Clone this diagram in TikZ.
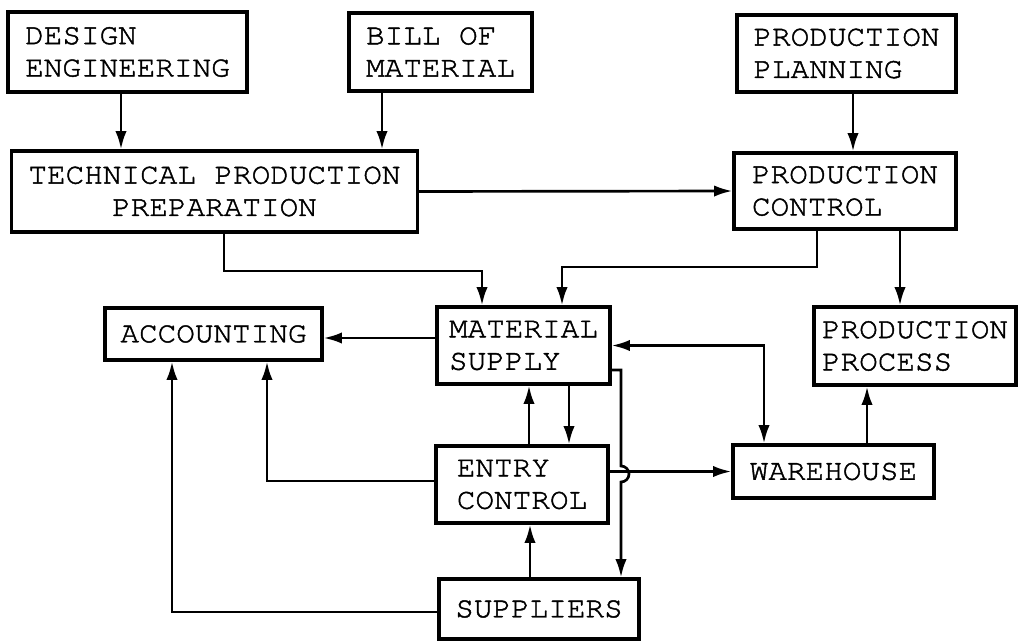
\documentclass[tikz,border=0pt]{standalone}
\usepackage{fontspec}
\newfontfamily\typefont[FakeStretch=1.05,FakeBold=1.5]{texgyrecursor-regular.otf}
\usetikzlibrary{arrows.meta}

\begin{document}
\begin{tikzpicture}[x=0.025cm,y=-0.025cm,
    box/.style={draw,line width=2.2pt,rectangle,align=left,inner sep=0pt,
      font=\typefont\fontsize{21}{23}\selectfont},
    arr/.style={line width=1.9pt,-{Latex[length=13pt,width=8pt]}},
    arrboth/.style={line width=1.9pt,{Latex[length=13pt,width=8pt]}-{Latex[length=13pt,width=8pt]}}]

    \useasboundingbox (0,0) rectangle (1018,643);

    \node [box,minimum width=5.975cm,minimum height=2cm] (design) at (127.5,52) {DESIGN\\ENGINEERING};
    \node [box,minimum width=4.575cm,minimum height=1.95cm] (bom) at (440.5,52) {BILL OF\\MATERIAL};
    \node [box,minimum width=5.475cm,minimum height=1.925cm] (planning) at (846.5,53.5) {PRODUCTION\\PLANNING};
    \node [box,align=center,minimum width=10.125cm,minimum height=2.025cm] (tpp) at (214.5,191.5) {TECHNICAL PRODUCTION\\PREPARATION};
    \node [box,minimum width=5.55cm,minimum height=1.9cm] (control) at (845,191) {PRODUCTION\\CONTROL};
    \node [box,minimum width=5.425cm,minimum height=1.3cm] (accounting) at (213.5,334) {ACCOUNTING};
    \node [box,minimum width=4.325cm,minimum height=1.925cm] (supply) at (523.5,345.5) {MATERIAL\\SUPPLY};
    \node [box,minimum width=5.05cm,minimum height=1.95cm] (process) at (915,346) {PRODUCTION\\PROCESS};
    \node [box,minimum width=4.3cm,minimum height=1.925cm] (entry) at (522,484.5) {ENTRY\\CONTROL};
    \node [box,minimum width=5.025cm,minimum height=1.325cm] (warehouse) at (833.5,471.5) {WAREHOUSE};
    \node [box,minimum width=5cm,minimum height=1.5cm] (suppliers) at (539,609) {SUPPLIERS};

    \draw [arr] (121,0 |- design.south) -- (121,0 |- tpp.north);
    \draw [arr] (382,0 |- bom.south) -- (382,0 |- tpp.north);
    \draw [arr] (853,0 |- planning.south) -- (853,0 |- control.north);
    \draw [arr] (tpp.east) -- (control.west);

    \draw [arr] (224,0 |- tpp.south) |- (482,271) -- (482,0 |- supply.north);
    \draw [arr] (817,0 |- control.south) |- (562,267) -- (562,0 |- supply.north);
    \draw [arr] (900,0 |- control.south) -- (900,0 |- process.north);

    \draw [arr] (supply.west |- 0,338) -- (accounting.east |- 0,338);
    \draw [arrboth] (supply.east) -| (764,0 |- warehouse.north);
    \draw [arr] (supply.east |- 0,370) -- (621,370) -- (621,466)
        arc [start angle=90,end angle=-90,radius=0.2cm] -- (621,0 |- suppliers.north);

    \draw [arr] (569,0 |- supply.south) -- (569,0 |- entry.north);
    \draw [arr] (529,0 |- entry.north) -- (529,0 |- supply.south);
    \draw [arr] (530,0 |- suppliers.north) -- (530,0 |- entry.south);

    \draw [arr] (entry.east |- warehouse.west) -- (warehouse.west);
    \draw [arr] (867,0 |- warehouse.north) -- (867,0 |- process.south);

    \draw [arr] (entry.west |- 0,481) -| (267,0 |- accounting.south);
    \draw [arr] (suppliers.west |- 0,612) -| (172,0 |- accounting.south);
\end{tikzpicture}
\end{document}
